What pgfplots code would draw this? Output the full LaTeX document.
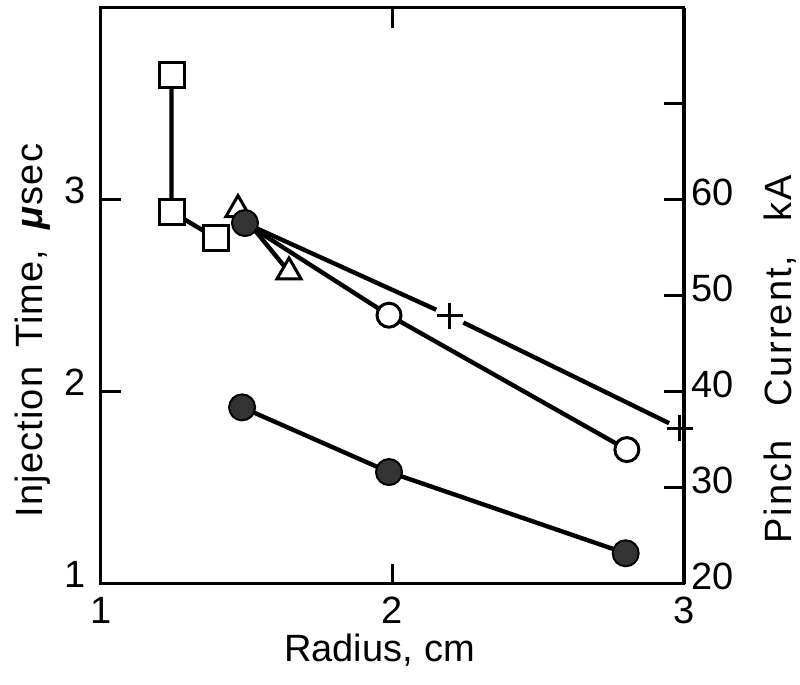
\documentclass[border=0pt]{standalone}
\usepackage{pgfplots}
\pgfplotsset{compat=1.18}
\usepackage{fontspec}
\setmainfont{Liberation Sans}
\begin{document}
\begin{tikzpicture}
\path[use as bounding box] (-50.5pt,-50.5pt) rectangle (349.5pt,292pt);
\begin{axis}[
 at={(0,0)}, anchor=south west,
 scale only axis, width=291.5pt, height=288pt,
 xmin=1,xmax=3,ymin=1,ymax=4,
 xtick={1,2,3}, ytick={1,2,3},
 ytick pos=left,
 tick align=inside,
 major tick length=10pt,
 axis line style={line width=1.5pt},
 every tick/.style={black,line width=1.5pt},
 font=\fontsize{19}{22}\selectfont,
 /pgf/number format/assume math mode=true,
 yticklabel style={yshift=5pt,xshift=-4pt},
 xticklabel style={yshift=-3pt},
 xlabel={Radius,\hspace{0.3em}cm},
 ylabel={\addfontfeature{LetterSpace=3}Injection\hspace{0.5em}Time,\hspace{0.5em}\textbf{\textit{μ}}sec},
 xlabel style={at={(axis description cs:0.478,-0.1146)},anchor=center},
 ylabel style={at={(axis description cs:-0.117,0.44)},anchor=center},
 clip=false,
]
% squares
\addplot[black, line width=2.2pt, mark=square*, mark size=6.25pt, mark options={fill=white, line width=1.5pt}]
 coordinates {(1.242,3.65)(1.242,2.94)(1.395,2.80)};
% triangles
\addplot[black, line width=2.2pt, mark=triangle*, mark size=7pt, mark options={fill=white, line width=1.5pt}]
 coordinates {(1.47,2.95)(1.645,2.625)};
% open circles
\addplot[black, line width=2.2pt, mark=*, mark size=6pt, mark options={fill=white,line width=1.5pt}, mark indices={2,3}]
 coordinates {(1.494,2.88)(1.988,2.40)(2.804,1.70)};
% plus series
\addplot[black, line width=2.2pt, shorten >=7.5pt] coordinates {(1.494,2.88)(2.197,2.396)};
\addplot[black, line width=2.2pt, shorten <=7.5pt, shorten >=6pt] coordinates {(2.197,2.396)(2.986,1.81)};
\addplot[black, only marks, mark=+, mark size=6.5pt, mark options={line width=1.5pt}]
 coordinates {(2.197,2.396)(2.986,1.81)};
% upper filled circle
\addplot[black, only marks, mark=*, mark size=6.5pt, mark options={fill=black!80, draw=black, line width=1pt}]
 coordinates {(1.494,2.88)};
% lower filled circles
\addplot[black, line width=2.2pt, mark=*, mark size=6.5pt, mark options={fill=black!80,draw=black,line width=1pt}]
 coordinates {(1.484,1.92)(1.988,1.583)(2.80,1.16)};
\end{axis}
\begin{axis}[
 at={(0,0)}, anchor=south west,
 scale only axis, width=291.5pt, height=288pt,
 xmin=1,xmax=3,ymin=20,ymax=80,
 hide x axis,
 axis y line*=right,
 ytick={20,30,40,50,60,70},
 yticklabels={20,30,40,50,60,},
 tick align=inside,
 major tick length=10pt,
 axis line style={line width=1.5pt},
 every tick/.style={black,line width=1.5pt},
 font=\fontsize{19}{22}\selectfont,
 /pgf/number format/assume math mode=true,
 yticklabel style={yshift=4pt},
 ylabel={\addfontfeature{LetterSpace=5}Pinch\hspace{0.9em}Current,\hspace{0.9em}kA},
 ylabel style={at={(axis description cs:1.165,0.39)},anchor=center},
]
\end{axis}
\end{tikzpicture}
\end{document}
